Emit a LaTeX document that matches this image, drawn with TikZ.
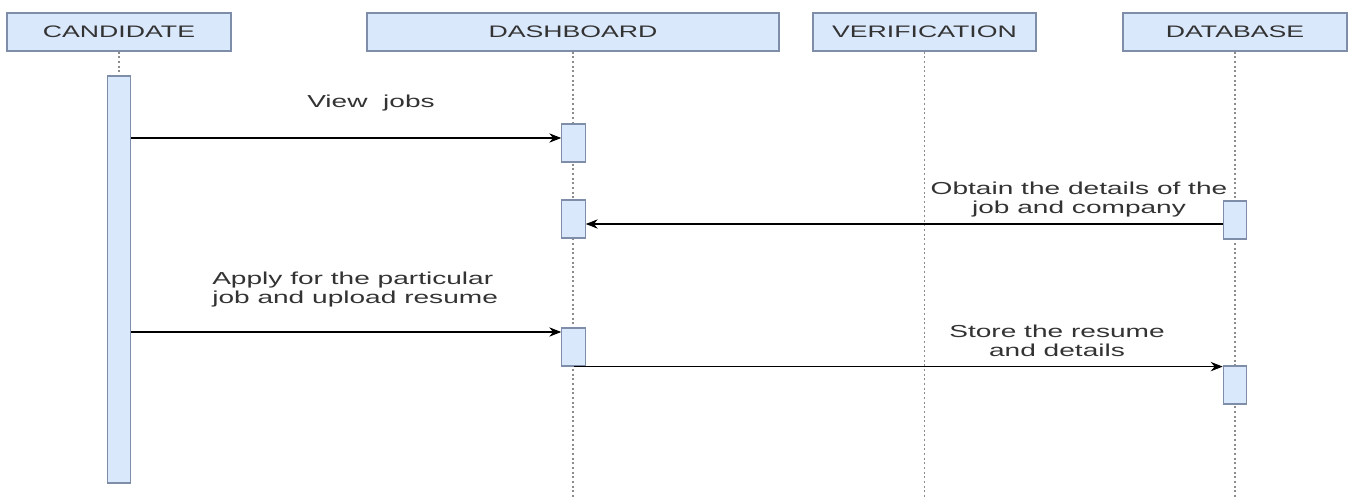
\documentclass[tikz,border=0pt]{standalone}
\usepackage{fontspec}
\newfontfamily\lbl[FakeStretch=1.6]{Liberation Sans}
\newfontfamily\lblw[FakeStretch=1.62]{Liberation Sans}
\usetikzlibrary{arrows.meta}
\definecolor{boxfill}{HTML}{DAE8FC}
\definecolor{boxline}{HTML}{7F8EA8}
\definecolor{txt}{HTML}{333333}
\definecolor{lifeg}{HTML}{8C8C8C}
\tikzset{
  head/.style={draw=boxline, fill=boxfill, line width=0.9pt, minimum height=28.5pt, inner sep=0pt,
    font=\lbl\fontsize{12.5}{14.25}\selectfont, text=txt},
  act/.style={draw=boxline, fill=boxfill, line width=0.9pt, minimum width=17.5pt, inner sep=0pt},
  life/.style={draw=lifeg, line width=1.3pt, dash pattern=on 1.5pt off 2pt},
  msg/.style={draw=black, line width=0.8pt, -{Stealth[length=9pt,width=7pt]}},
  lab/.style={font=\lblw\fontsize{13}{14.25}\selectfont, text=txt, inner sep=0pt}
}
\begin{document}
\begin{tikzpicture}[x=0.75pt,y=-0.75pt]
\useasboundingbox[fill=white] (0,0) rectangle (1352,499);
% headers
\node[head, minimum width=168pt] (cand) at (119,32) {CANDIDATE};
\node[head, minimum width=309pt] (dash) at (573,32) {DASHBOARD};
\node[head, minimum width=167.25pt] (veri) at (924.5,32) {VERIFICATION};
\node[head, minimum width=168pt] (dbase) at (1235,32) {DATABASE};
% lifeline ends
\coordinate (cend) at (119,76);
\coordinate (dend) at (573,497);
\coordinate (vend) at (924.5,497);
\coordinate (bend) at (1235,497);
\draw[life] (cand.south) -- (cend);
\draw[life] (dash.south) -- (dend);
\draw[life] (veri.south) -- (vend);
\draw[life] (dbase.south) -- (bend);
% activations
\node[act, minimum height=305.25pt] (cact) at (119,279.5) {};
\node[act, minimum height=28.5pt] (d1) at (573.5,143) {};
\node[act, minimum height=28.5pt] (d2) at (573.5,219) {};
\node[act, minimum height=28.5pt] (d3) at (573.5,347) {};
\node[act, minimum height=28.5pt] (b1) at (1235,220) {};
\node[act, minimum height=28.5pt] (b2) at (1235,385) {};
% messages
\draw[msg] (cact.east |- 0,138) -- (d1.west |- 0,138);
\draw[msg] (b1.west |- 0,224) -- (d2.east |- 0,224);
\draw[msg] (cact.east |- 0,332) -- (d3.west |- 0,332);
\draw[msg] (d3.south) -- (b2.west |- d3.south);
% labels
\node[lab] (l1) at (371,103) {View\ \ jobs};
\node[lab, align=center] (l2) at (1079,200) {Obtain the details of the\\job and company};
\node[lab, align=left, anchor=west] (l3) at (212,290) {Apply for the particular\\job and upload resume};
\node[lab, align=center] (l4) at (1057,341) {Store the resume\\and details};
\end{tikzpicture}
\end{document}
